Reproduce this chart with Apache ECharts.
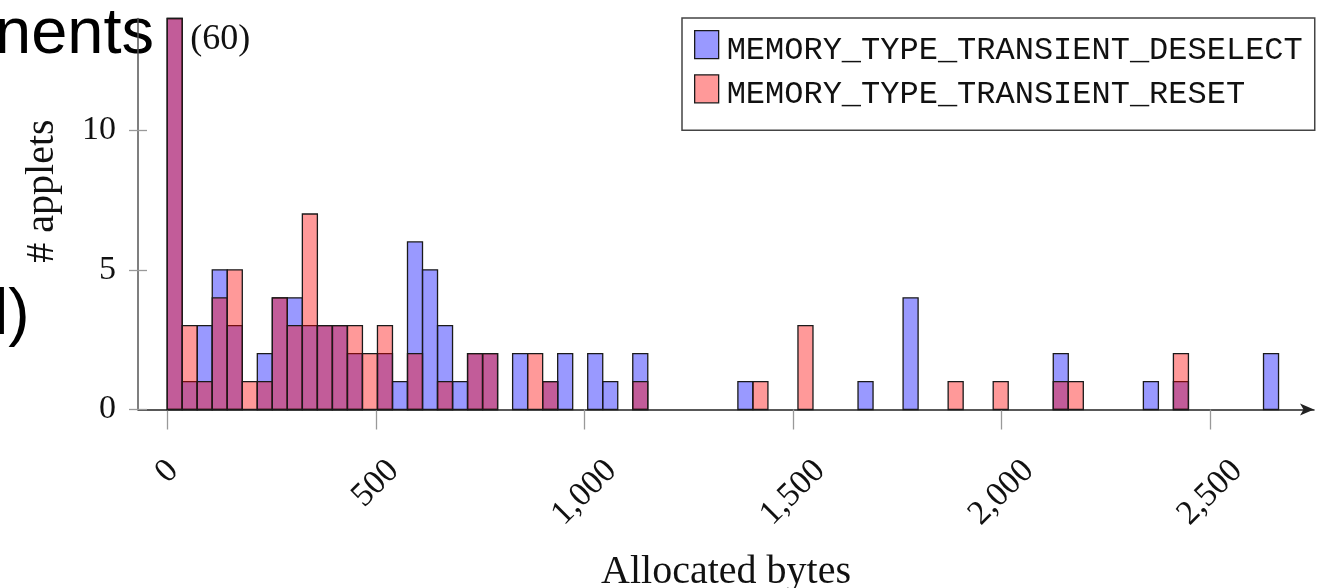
<!DOCTYPE html>
<html>
<head>
<meta charset="utf-8">
<script src="https://cdn.jsdelivr.net/npm/echarts@6/dist/echarts.min.js"></script>
<style>
html,body{margin:0;padding:0;background:#fff;}
#chart{width:1317px;height:588px;}
</style>
</head>
<body>
<div id="chart"></div>
<script>
// ---- data ----
const binWidth = 36; // bytes per histogram bin
const seriesNames = ['MEMORY_TYPE_TRANSIENT_DESELECT', 'MEMORY_TYPE_TRANSIENT_RESET'];
const deselectCounts = [60,1,3,5,3,0,2,4,4,3,3,3,2,0,2,1,6,5,3,1,2,2,0,2,0,1,2,0,2,1,0,2,
  0,0,0,0,0,0,1,0,0,0,0,0,0,0,1,0,0,4,0,0,0,0,0,0,0,0,0,2,0,0,0,0,0,1,0,1,0,0,0,0,0,2];
const resetCounts = [60,3,1,4,5,1,1,4,3,7,3,3,3,2,3,0,2,0,1,0,2,2,0,0,2,1,0,0,0,0,0,1,
  0,0,0,0,0,0,0,1,0,0,3,0,0,0,0,0,0,0,0,0,1,0,0,1,0,0,0,1,1,0,0,0,0,0,0,2,0,0,0,0,0,0];
const xTicks = [0, 500, 1000, 1500, 2000, 2500];
const yTicks = [0, 5, 10];
const yMax = 14;
const xMin = -70, xMax = 2749;

// ---- styles ----
const serif = '"Liberation Serif", "DejaVu Serif", serif';
const mono = '"Liberation Mono", "DejaVu Sans Mono", monospace';
const blueFill = 'rgba(0,0,255,0.4)';
const redFill = 'rgba(255,0,0,0.4)';
const edge = '#1a1a1a';

const measureCtx = document.createElement('canvas').getContext('2d');
function textWidth(t, font) { measureCtx.font = font; return measureCtx.measureText(t).width; }
function fmt(v) { return v.toLocaleString('en-US'); }

function barRender(fill) {
  return function (params, api) {
    const x0 = api.value(0), x1 = api.value(1), c = api.value(2);
    if (!(c > 0)) return null;
    const pBase = api.coord([x0, 0]);
    const pTop = api.coord([x1, c]);
    const cs = params.coordSys;
    const shape = echarts.graphic.clipRectByRect({
      x: pBase[0], y: pTop[1], width: pTop[0] - pBase[0], height: pBase[1] - pTop[1]
    }, { x: cs.x, y: cs.y, width: cs.width, height: cs.height });
    if (!shape) return null;
    const children = [{
      type: 'rect', shape: shape,
      style: { fill: fill, stroke: edge, lineWidth: 1.3 }
    }];
    if (c > yMax && fill === redFill) {
      children.push({
        type: 'text',
        x: shape.x + shape.width + 8, y: cs.y + 21,
        style: { text: '(' + c + ')', font: '36px ' + serif, fill: '#111', align: 'left', verticalAlign: 'middle' }
      });
    }
    return { type: 'group', children: children };
  };
}

const labelFont = '34px ' + serif;
function xLabelRender(params, api) {
  const v = api.value(0);
  const p = api.coord([v, 0]);
  const t = fmt(v);
  const w = textWidth(t, labelFont);
  const h = 26;
  const top = p[1] + 47;
  return {
    type: 'text',
    x: p[0], y: top + (w + h) * 0.3536,
    rotation: Math.PI / 4,
    style: { text: t, font: labelFont, fill: '#111', align: 'center', verticalAlign: 'middle' }
  };
}

const chart = echarts.init(document.getElementById('chart'), null, { renderer: 'canvas' });
chart.setOption({
  animation: false,
  backgroundColor: '#fff',
  grid: { left: 138, right: 3, top: 18.5, bottom: 588 - 409.5, containLabel: false, outerBoundsMode: 'none' },
  xAxis: {
    type: 'value', min: xMin, max: xMax,
    name: 'Allocated bytes', nameLocation: 'middle', nameGap: 143,
    nameTextStyle: { fontFamily: serif, fontSize: 40, color: '#111' },
    axisLine: { show: true, onZero: false, symbol: ['none', 'arrow'], symbolSize: [9, 14],
      lineStyle: { color: '#222', width: 1.5 } },
    axisTick: { show: true, inside: false, length: 20, customValues: xTicks, lineStyle: { color: '#999', width: 1.3 } },
    axisLabel: { show: false },
    splitLine: { show: false }
  },
  yAxis: [{
    type: 'value', min: 0, max: yMax,
    name: '# applets', nameLocation: 'middle', nameGap: 76, nameRotate: 90,
    nameTextStyle: { fontFamily: serif, fontSize: 40, color: '#111', padding: [0, 0, 0, 46] },
    axisLine: { show: true, onZero: false, lineStyle: { color: '#555', width: 1.5 } },
    axisTick: { show: true, inside: false, length: 9, customValues: yTicks, lineStyle: { color: '#999', width: 1.3 } },
    axisLabel: { show: true, customValues: yTicks, margin: 22, fontFamily: serif, fontSize: 34, color: '#111' },
    splitLine: { show: false }
  }, {
    type: 'value', min: 0, max: yMax, position: 'left',
    axisLine: { show: false, onZero: false },
    axisTick: { show: true, inside: true, length: 9, customValues: yTicks, lineStyle: { color: '#999', width: 1.3 } },
    axisLabel: { show: false },
    splitLine: { show: false }
  }],
  legend: {
    orient: 'vertical', left: 682, top: 18,
    padding: [12, 12, 20, 12],
    itemWidth: 24, itemHeight: 28, itemGap: 8,
    backgroundColor: '#fff', borderColor: '#444', borderWidth: 1.5, borderRadius: 0,
    selectedMode: false,
    formatter: '{t|{name}}',
    textStyle: {
      fontFamily: mono, fontSize: 32, color: '#111',
      rich: { t: { fontFamily: mono, fontSize: 32, color: '#111', padding: [11, 0, 0, 3] } }
    },
    data: [
      { name: seriesNames[0], icon: 'rect', itemStyle: { color: blueFill, borderColor: edge, borderWidth: 1.3 } },
      { name: seriesNames[1], icon: 'rect', itemStyle: { color: redFill, borderColor: edge, borderWidth: 1.3 } }
    ]
  },
  graphic: [
    { type: 'text', left: -5, top: 3, silent: true,
      style: { text: 'nents', font: '65px "Liberation Sans", Arial, sans-serif', fill: '#000' } },
    { type: 'text', left: -6, top: 284, silent: true,
      style: { text: 'l)', font: '64px "Liberation Sans", Arial, sans-serif', fill: '#000' } }
  ],
  series: [
    {
      name: seriesNames[0], type: 'custom', renderItem: barRender(blueFill),
      itemStyle: { color: blueFill, borderColor: edge, borderWidth: 1.3 },
      encode: { x: [0, 1], y: 2 },
      data: deselectCounts.map((c, i) => [i * binWidth, (i + 1) * binWidth, c]),
      z: 2
    },
    {
      name: seriesNames[1], type: 'custom', renderItem: barRender(redFill),
      itemStyle: { color: redFill, borderColor: edge, borderWidth: 1.3 },
      encode: { x: [0, 1], y: 2 },
      data: resetCounts.map((c, i) => [i * binWidth, (i + 1) * binWidth, c]),
      z: 3
    },
    {
      name: 'xTickLabels', type: 'custom', renderItem: xLabelRender, silent: true, clip: false,
      encode: { x: 0, y: 1 },
      data: xTicks.map(v => [v, 0]),
      z: 1
    }
  ]
});
</script>
</body>
</html>
